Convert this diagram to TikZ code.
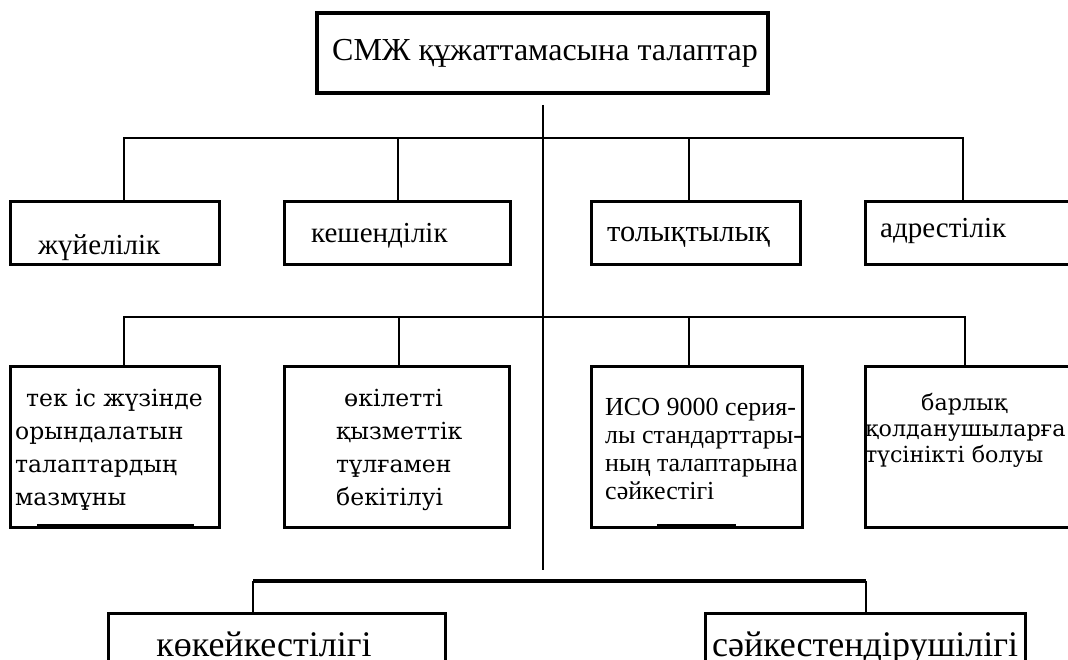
\documentclass[tikz,border=0pt]{standalone}
\usepackage{fontspec}
\setmainfont{Liberation Serif}
\newfontfamily\wideserif{DejaVu Serif}

\begin{document}
\begin{tikzpicture}[x=1pt,y=-1pt,
  box/.style={draw, line width=3pt, rectangle, inner sep=0pt},
  link/.style={line width=2.8pt},
  lbl/.style={inner sep=0pt, font=\fontsize{29}{33}\selectfont},
  para/.style={inner sep=0pt, align=left, font=\wideserif\fontsize{23.5}{33}\selectfont}]
  \fill[white] (0,0) rectangle (1068,660);
  \useasboundingbox (0,0) rectangle (1068,660);
  \clip (0,0) rectangle (1068,660);
  % Top box
  \node[box, line width=3.6pt, minimum width=451, minimum height=80] (top) at (542.5,53) {};
  \node[lbl, anchor=base, font=\fontsize{32}{33}\selectfont] (toptxt) at (545,61) {СМЖ құжаттамасына талаптар};
  % First row
  \node[box, minimum width=209, minimum height=63] (a1) at (114.5,233.5) {};
  \node[box, minimum width=226, minimum height=63] (a2) at (397,233.5) {};
  \node[box, minimum width=209, minimum height=63] (a3) at (695.5,233.5) {};
  \node[box, minimum width=215, minimum height=63] (a4) at (972.5,233.5) {};
  \node[lbl, anchor=base west] (a1txt) at (38,255) {жүйелілік};
  \node[lbl, anchor=base west] (a2txt) at (311,243) {кешенділік};
  \node[lbl, anchor=base west, font=\fontsize{30.5}{33}\selectfont] (a3txt) at (607,242) {толықтылық};
  \node[lbl, anchor=base west] (a4txt) at (880,238) {адрестілік};
  % Second row
  \node[box, minimum width=209, minimum height=161] (b1) at (114.5,446.5) {};
  \node[box, minimum width=225, minimum height=161] (b2) at (396.5,446.5) {};
  \node[box, minimum width=211, minimum height=161] (b3) at (696.5,446.5) {};
  \node[box, minimum width=215, minimum height=161] (b4) at (972.5,446.5) {};
  \draw[line width=5pt] (37,526) -- (194,526);
  \draw[line width=5pt] (657,526) -- (736,526);
  \node[para, anchor=north west] (b1txt) at (15,389)
    {\hspace*{11pt}тек іс жүзінде\\орындалатын\\талаптардың\\мазмұны};
  \node[para, anchor=north west] (b2txt) at (336,389)
    {\hspace*{8pt}өкілетті\\қызметтік\\тұлғамен\\бекітілуі};
  \node[para, anchor=north west, font=\fontsize{26}{28}\selectfont] (b3txt) at (605,398)
    {ИСО 9000 серия-\\лы стандарттары-\\ның талаптарына\\сәйкестігі};
  \node[para, anchor=north west, font=\wideserif\fontsize{22.2}{26}\selectfont] (b4txt) at (865,393)
    {\hspace*{56pt}барлық\\қолданушыларға\\түсінікті болуы};
  % Third row
  \node[box, minimum width=337, minimum height=80] (k1) at (276.5,653) {};
  \node[box, minimum width=320, minimum height=80] (k2) at (865,653) {};
  \node[lbl, anchor=base, font=\fontsize{36}{36}\selectfont] (k1txt) at (264,656) {көкейкестілігі};
  \node[lbl, anchor=base, font=\fontsize{36}{36}\selectfont] (k2txt) at (865,656) {сәйкестендірушілігі};
  % Trunk and branches
  \coordinate (hubA) at (543,138);
  \coordinate (hubB) at (543,317);
  \coordinate (hubC) at (543,581);
  \draw[line width=2.2pt] ([yshift=-10pt]top.south -| hubA) -- ([yshift=11pt]hubC);
  \foreach \n/\x in {1/124,2/398,3/689,4/963} {
    \coordinate (dA\n) at (\x,138);
    \draw[link] (hubA) -- (dA\n) -- (dA\n |- a\n.north);
  }
  \foreach \n/\x in {1/124,2/399,3/689,4/965} {
    \coordinate (dB\n) at (\x,317);
    \draw[link] (hubB) -- (dB\n) -- (dB\n |- b\n.north);
  }
  \foreach \n/\x in {1/253,2/866} {
    \coordinate (dC\n) at (\x,581);
    \draw[link, line width=4.5pt] (hubC) -- (dC\n);
    \draw[link] (dC\n) -- (dC\n |- k\n.north);
  }
\end{tikzpicture}
\end{document}
